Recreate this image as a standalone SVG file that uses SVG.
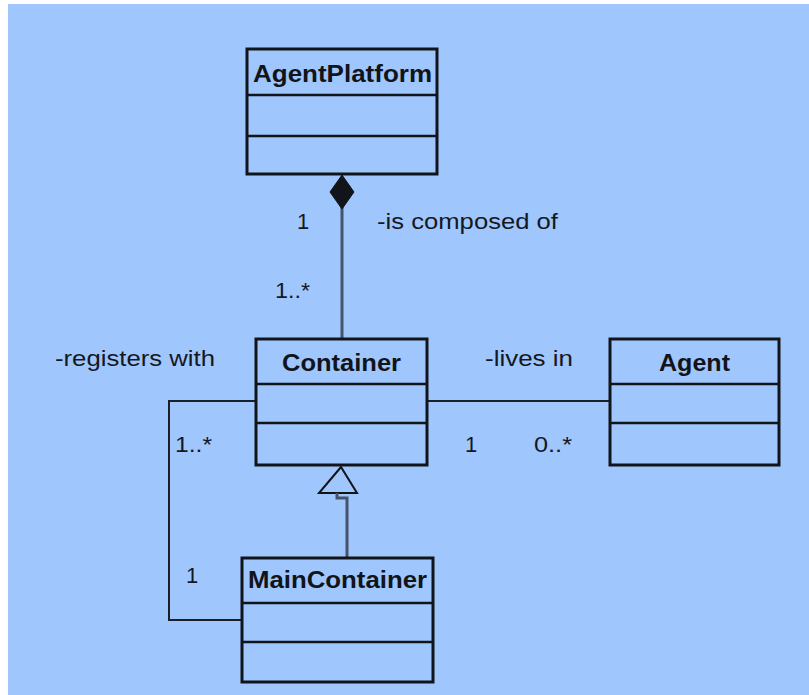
<svg xmlns="http://www.w3.org/2000/svg" width="809" height="695" viewBox="0 0 809 695">
  <style>
    .box { fill: #a0c6fe; stroke: #111418; stroke-width: 3; }
    .div { stroke: #111418; stroke-width: 2.5; }
    .title { font-family: "Liberation Sans", Arial, sans-serif; font-weight: bold; font-size: 23px; fill: #111418; }
    .lbl { font-family: "Liberation Sans", Arial, sans-serif; font-size: 22px; fill: #15181e; }
    .edge { fill: none; stroke: #1a1f28; stroke-width: 2; }
    .edge-slate { fill: none; stroke: #46536a; stroke-width: 3; }
  </style>
  <rect x="0" y="0" width="809" height="695" fill="#ffffff"/>
  <rect x="8" y="4" width="801" height="691" fill="#a0c6fe"/>

  <g id="connectors">
    <!-- composition: AgentPlatform to Container -->
    <line class="edge-slate" x1="342" y1="206" x2="342" y2="339"/>
    <polygon points="342,175 354,192 342,209 330,192" fill="#111418" stroke="#111418" stroke-width="1"/>
    <!-- registration: Container to MainContainer -->
    <polyline class="edge" points="256,401 169,401 169,620 243,620"/>
    <!-- residence: Container to Agent -->
    <line class="edge" x1="427" y1="401" x2="610" y2="401" stroke-width="1.8"/>
    <!-- generalization: MainContainer to Container -->
    <polygon points="341,467 319,493 357,493" fill="#a0c6fe" stroke="#111418" stroke-width="2"/>
    <polyline class="edge-slate" points="337,493 337,498 347,498 347,558" stroke-width="2.5"/>
  </g>

  <g id="AgentPlatform">
    <rect class="box" x="247" y="49" width="190" height="125"/>
    <line class="div" x1="247" y1="95" x2="437" y2="95"/>
    <line class="div" x1="247" y1="136" x2="437" y2="136"/>
    <text class="title" x="253" y="82" textLength="179" lengthAdjust="spacingAndGlyphs">AgentPlatform</text>
  </g>

  <g id="Container">
    <rect class="box" x="256" y="339" width="171" height="126"/>
    <line class="div" x1="256" y1="384" x2="427" y2="384"/>
    <line class="div" x1="256" y1="423" x2="427" y2="423"/>
    <text class="title" x="282" y="371" textLength="119" lengthAdjust="spacingAndGlyphs">Container</text>
  </g>

  <g id="Agent">
    <rect class="box" x="610" y="339" width="169" height="126"/>
    <line class="div" x1="610" y1="384" x2="779" y2="384"/>
    <line class="div" x1="610" y1="423" x2="779" y2="423"/>
    <text class="title" x="659" y="371" textLength="71" lengthAdjust="spacingAndGlyphs">Agent</text>
  </g>

  <g id="MainContainer">
    <rect class="box" x="242" y="558" width="191" height="124"/>
    <line class="div" x1="242" y1="603" x2="433" y2="603"/>
    <line class="div" x1="242" y1="642" x2="433" y2="642"/>
    <text class="title" x="248" y="588" textLength="179" lengthAdjust="spacingAndGlyphs">MainContainer</text>
  </g>

  <g id="labels">
    <text class="lbl" x="297" y="229">1</text>
    <text class="lbl" x="377" y="229" textLength="181" lengthAdjust="spacingAndGlyphs">-is composed of</text>
    <text class="lbl" x="275" y="298" textLength="35" lengthAdjust="spacingAndGlyphs">1..*</text>
    <text class="lbl" x="55" y="366" textLength="160" lengthAdjust="spacingAndGlyphs">-registers with</text>
    <text class="lbl" x="175" y="452" textLength="37" lengthAdjust="spacingAndGlyphs">1..*</text>
    <text class="lbl" x="485" y="366" textLength="88" lengthAdjust="spacingAndGlyphs">-lives in</text>
    <text class="lbl" x="465" y="452">1</text>
    <text class="lbl" x="534" y="452" textLength="38" lengthAdjust="spacingAndGlyphs">0..*</text>
    <text class="lbl" x="186" y="583">1</text>
  </g>
</svg>
